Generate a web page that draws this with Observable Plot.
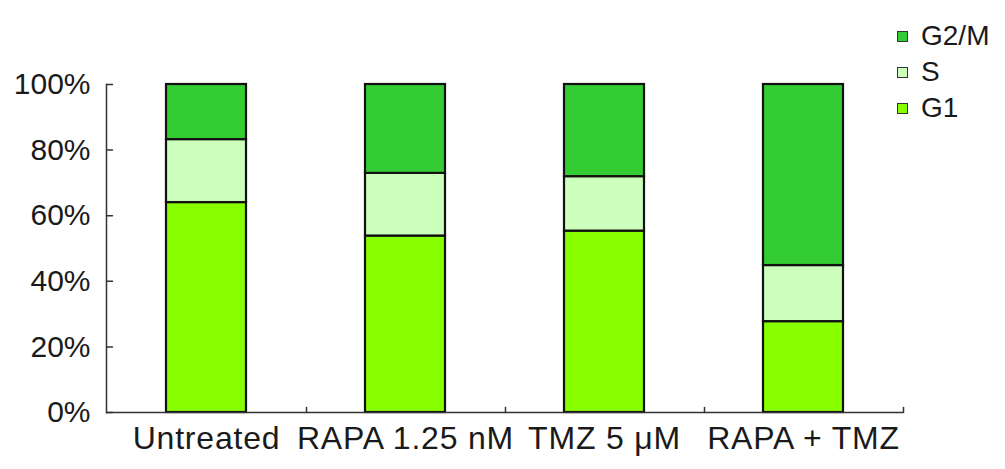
<!DOCTYPE html>
<html>
<head>
<meta charset="utf-8">
<script src="https://cdn.jsdelivr.net/npm/d3@7"></script>
<script src="https://cdn.jsdelivr.net/npm/@observablehq/plot@0.6"></script>
<style>
  html, body { margin: 0; padding: 0; background: #fff; }
  #wrap { position: relative; width: 1005px; height: 469px; font-family: "Liberation Sans", Arial, sans-serif; }
  #legend { position: absolute; left: 897px; top: 18px; color: #1a1a1a; font-size: 28px; line-height: 36px; }
  #legend div { display: flex; align-items: center; }
  #legend span.sw { display: inline-block; width: 9px; height: 9px; border: 1px solid #333; margin-right: 13px; }
  .xax text { letter-spacing: 0.8px; }
</style>
</head>
<body>
<div id="wrap"><div id="chart"></div><div id="legend"></div></div>
<script>
const categories = ["Untreated", "RAPA 1.25 nM", "TMZ 5 μM", "RAPA + TMZ"];
const phases = ["G1", "S", "G2/M"];
const g1 = [64, 53.8, 55.3, 27.7];
const s = [19.2, 19.1, 16.6, 17.1];
const g2m = [16.8, 27.1, 28.1, 55.2];
const phaseColors = ["#88ff00", "#ccffbb", "#33cc33"];
const yTicks = [0, 20, 40, 60, 80, 100];

const series = [g1, s, g2m];
const data = [];
categories.forEach((c, i) => phases.forEach((p, j) => data.push({category: c, phase: p, value: series[j][i]})));

const tickShape = {draw(context, l) { context.moveTo(0, 0); context.lineTo(0, -l); }};

const plot = Plot.plot({
  width: 1005,
  height: 469,
  marginLeft: 106,
  marginRight: 102,
  marginTop: 84,
  marginBottom: 57,
  style: {fontFamily: "'Liberation Sans', Arial, sans-serif", color: "#1a1a1a", background: "#fff"},
  x: {domain: categories, paddingInner: 0.6, paddingOuter: 0.3, label: null},
  y: {domain: [0, 100], label: null},
  color: {domain: phases, range: phaseColors},
  marks: [
    Plot.barY(data, Plot.stackY({order: phases, x: "category", y: "value", fill: "phase", stroke: "#111", strokeWidth: 2.2})),
    Plot.frame({anchor: "left", stroke: "#333", strokeWidth: 1.5}),
    Plot.ruleY([0], {stroke: "#333", strokeWidth: 1.5}),
    Plot.vector(yTicks, {y: d => d, frameAnchor: "left", rotate: 90, length: 6, anchor: "start", shape: tickShape, stroke: "#333", strokeWidth: 1.5}),
    Plot.vector(categories, {x: d => d, dx: 100, frameAnchor: "bottom", length: 5, anchor: "start", shape: tickShape, stroke: "#333", strokeWidth: 1.5}),
    Plot.axisY({ticks: yTicks, tickSize: 0, tickPadding: 16, fontSize: 30, tickFormat: d => d + "%", label: null}),
    Plot.axisX({tickSize: 0, tickPadding: 14, fontSize: 32, label: null, className: "xax"})
  ]
});
document.getElementById("chart").appendChild(plot);

const legend = document.getElementById("legend");
[...phases].reverse().forEach(p => {
  const row = document.createElement("div");
  const sw = document.createElement("span");
  sw.className = "sw";
  sw.style.background = phaseColors[phases.indexOf(p)];
  row.appendChild(sw);
  row.appendChild(document.createTextNode(p));
  legend.appendChild(row);
});
</script>
</body>
</html>
